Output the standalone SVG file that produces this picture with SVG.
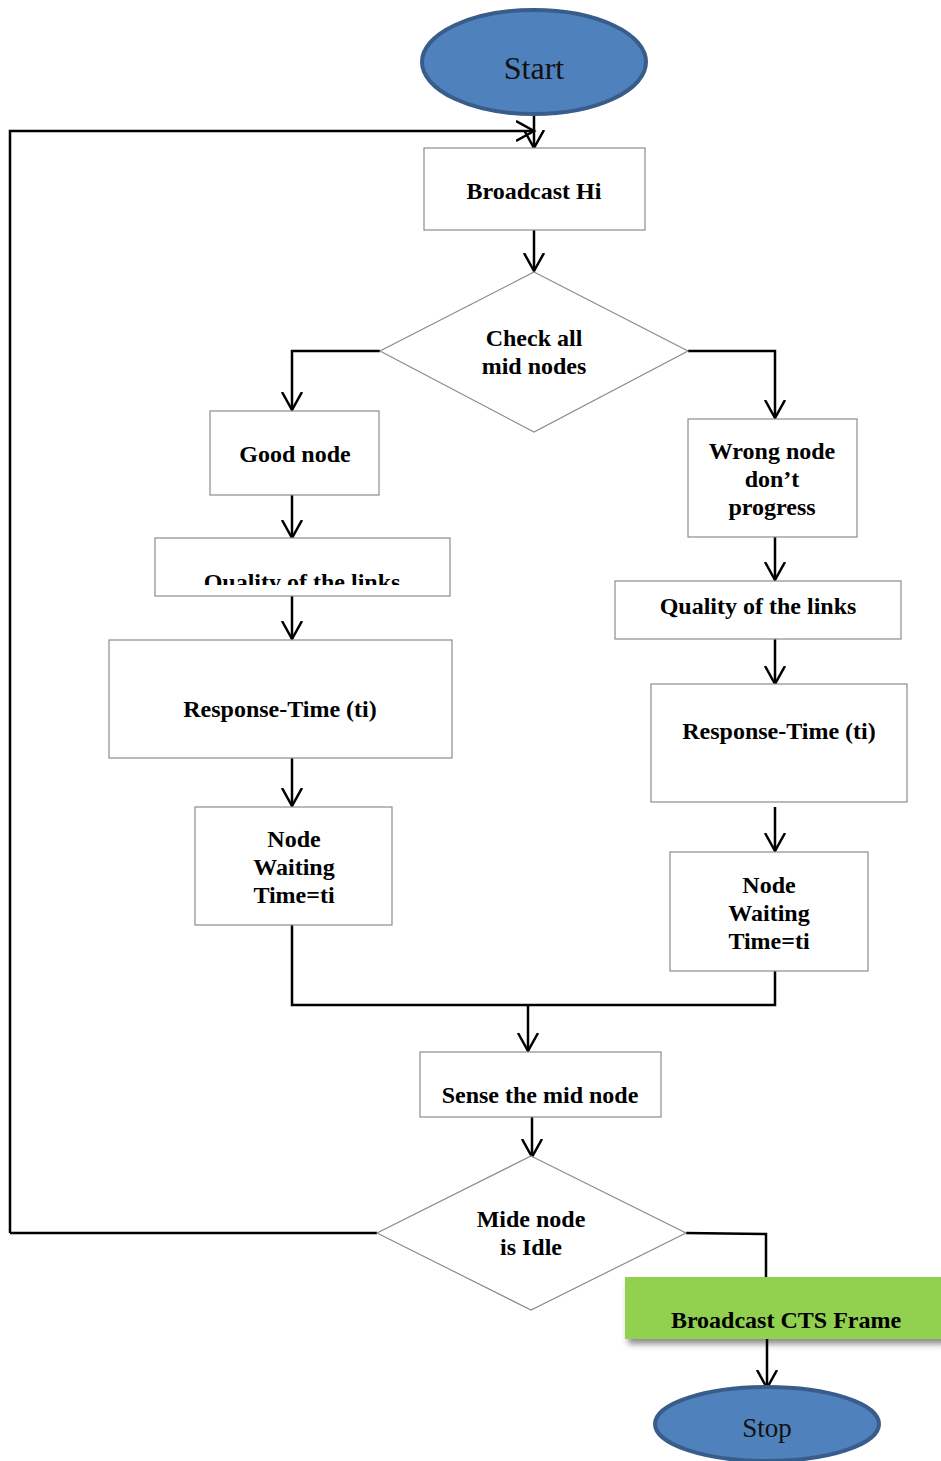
<svg xmlns="http://www.w3.org/2000/svg" width="941" height="1461" viewBox="0 0 941 1461">
<defs>
<marker id="ah" markerWidth="22" markerHeight="24" refX="18" refY="11" orient="auto" markerUnits="userSpaceOnUse">
<polyline points="0,1 18,11 0,21" fill="none" stroke="#000" stroke-width="2.5"/>
</marker>
<filter id="sh" x="-10%" y="-20%" width="130%" height="160%">
<feDropShadow dx="3" dy="5" stdDeviation="3" flood-color="#000" flood-opacity="0.45"/>
</filter>
<clipPath id="clipQ"><rect x="155" y="538" width="295" height="47"/></clipPath>
</defs>
<style>
.box{fill:#fff;stroke:#8c8c8c;stroke-width:1.2}
.dia{fill:#fff;stroke:#8c8c8c;stroke-width:1.2}
.t{font-family:"Liberation Serif","Times New Roman",serif;font-weight:bold;font-size:24px;fill:#000;text-anchor:middle}
.ov{fill:#4f81bd;stroke:#385d8a;stroke-width:4}
.ot{font-family:"Liberation Serif","Times New Roman",serif;fill:#111;text-anchor:middle}
.c{fill:none;stroke:#000;stroke-width:2.5}
</style>
<rect width="941" height="1461" fill="#fff"/>
<g id="connectors">
<line class="c" x1="534" y1="114" x2="534" y2="148" marker-end="url(#ah)"/>
<polyline class="c" points="10,1233 10,131 534,131" marker-end="url(#ah)"/>
<line class="c" x1="534" y1="230" x2="534" y2="271" marker-end="url(#ah)"/>
<polyline class="c" points="380,351 292,351 292,410" marker-end="url(#ah)"/>
<line class="c" x1="292" y1="495" x2="292" y2="538" marker-end="url(#ah)"/>
<line class="c" x1="292" y1="596" x2="292" y2="639" marker-end="url(#ah)"/>
<line class="c" x1="292" y1="758" x2="292" y2="806" marker-end="url(#ah)"/>
<polyline class="c" points="688,351 775,351 775,418" marker-end="url(#ah)"/>
<line class="c" x1="775" y1="537" x2="775" y2="580" marker-end="url(#ah)"/>
<line class="c" x1="775" y1="639" x2="775" y2="684" marker-end="url(#ah)"/>
<line class="c" x1="775" y1="807" x2="775" y2="851" marker-end="url(#ah)"/>
<polyline class="c" points="292,925 292,1005 775,1005 775,971"/>
<line class="c" x1="528" y1="1005" x2="528" y2="1051" marker-end="url(#ah)"/>
<line class="c" x1="532" y1="1117" x2="532" y2="1157" marker-end="url(#ah)"/>
<polyline class="c" points="686,1233 766,1234 766,1277"/>
<line class="c" x1="377" y1="1233" x2="10" y2="1233"/>
<line class="c" x1="767" y1="1339" x2="767" y2="1388" marker-end="url(#ah)"/>
</g>
<g id="start"><ellipse class="ov" cx="534" cy="62" rx="112" ry="52"/><text class="ot" x="534" y="79" font-size="32">Start</text></g>
<g id="broadcast-hi"><rect class="box" x="424" y="148" width="221" height="82"/><text class="t" x="534" y="199">Broadcast Hi</text></g>
<g id="check"><polygon class="dia" points="534,272 688,351 534,432 380,351"/><text class="t" x="534" y="346">Check all</text><text class="t" x="534" y="374">mid nodes</text></g>
<g id="good-node"><rect class="box" x="210" y="411" width="169" height="84"/><text class="t" x="295" y="462">Good node</text></g>
<g id="quality-left"><rect class="box" x="155" y="538" width="295" height="58"/><text class="t" x="302" y="590" clip-path="url(#clipQ)">Quality of the links</text></g>
<g id="response-left"><rect class="box" x="109" y="640" width="343" height="118"/><text class="t" x="280" y="717">Response-Time (ti)</text></g>
<g id="waiting-left"><rect class="box" x="195" y="807" width="197" height="118"/><text class="t" x="294" y="847">Node</text><text class="t" x="294" y="875">Waiting</text><text class="t" x="294" y="903">Time=ti</text></g>
<g id="wrong-node"><rect class="box" x="688" y="419" width="169" height="118"/><text class="t" x="772" y="459">Wrong node</text><text class="t" x="772" y="487">don’t</text><text class="t" x="772" y="515">progress</text></g>
<g id="quality-right"><rect class="box" x="615" y="581" width="286" height="58"/><text class="t" x="758" y="614">Quality of the links</text></g>
<g id="response-right"><rect class="box" x="651" y="684" width="256" height="118"/><text class="t" x="779" y="739">Response-Time (ti)</text></g>
<g id="waiting-right"><rect class="box" x="670" y="852" width="198" height="119"/><text class="t" x="769" y="893">Node</text><text class="t" x="769" y="921">Waiting</text><text class="t" x="769" y="949">Time=ti</text></g>
<g id="sense"><rect class="box" x="420" y="1052" width="241" height="65"/><text class="t" x="540" y="1103">Sense the mid node</text></g>
<g id="idle"><polygon class="dia" points="531,1156 686,1233 531,1310 377,1233"/><text class="t" x="531" y="1227">Mide node</text><text class="t" x="531" y="1255">is Idle</text></g>
<g id="cts"><rect x="625" y="1277" width="320" height="62" fill="#92d050" filter="url(#sh)"/><text class="t" x="786" y="1328">Broadcast CTS Frame</text></g>
<g id="stop"><ellipse class="ov" cx="767" cy="1424" rx="112" ry="37"/><text class="ot" x="767" y="1437" font-size="27">Stop</text></g>
</svg>
